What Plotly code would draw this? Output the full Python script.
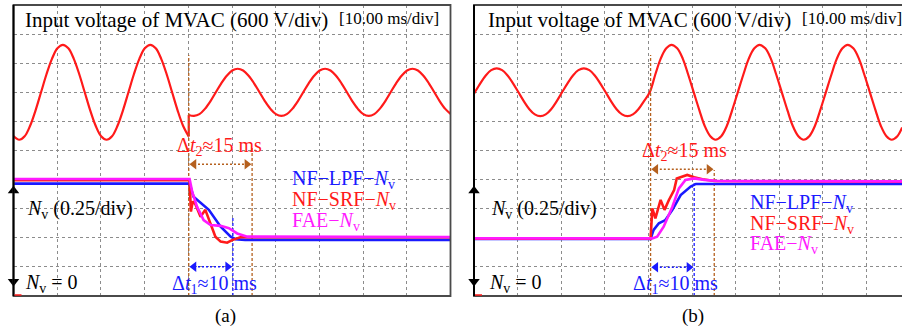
import plotly.graph_objects as go

W, H = 902, 331

# ---------------- data (time in ms, amplitude in scope divisions) ----------------
# Panel (a): input voltage before / after sag
va_t1 = [0, 1.3, 2.55, 3.8, 5.05, 6.3, 7.55, 8.8, 10.05, 11.3, 12.55, 13.8, 15.05, 16.3, 17.55, 18.8, 20.05,
         21.3, 22.55, 23.8, 25.05, 26.3, 27.55, 28.8, 30.05, 31.3, 32.55, 33.8, 35.05, 36.3, 37.55, 38.8, 40.1]
va_v1 = [5.50, 5.37, 5.49, 5.85, 6.38, 7.0, 7.62, 8.15, 8.51, 8.63, 8.51, 8.15, 7.62, 7.0, 6.38, 5.85, 5.49,
         5.37, 5.49, 5.85, 6.38, 7.0, 7.62, 8.15, 8.51, 8.63, 8.51, 8.15, 7.62, 7.0, 6.38, 5.85, 5.48]
va_t2 = [40.1, 41.3, 42.55, 43.8, 45.05, 46.3, 47.55, 48.8, 50.05, 51.3, 52.55, 53.8, 55.05, 56.3, 57.55, 58.8,
         60.05, 61.3, 62.55, 63.8, 65.05, 66.3, 67.55, 68.8, 70.05, 71.3, 72.55, 73.8, 75.05, 76.3, 77.55,
         78.8, 80.05, 81.3, 82.55, 83.8, 85.05, 86.3, 87.55, 88.8, 90.05, 91.3, 92.55, 93.8, 95.05, 96.3,
         97.55, 98.8, 100]
va_v2 = [6.22, 6.19, 6.25, 6.43, 6.69, 7.0, 7.31, 7.57, 7.75, 7.81, 7.75, 7.57, 7.31, 7.0, 6.69, 6.43,
         6.25, 6.19, 6.25, 6.43, 6.69, 7.0, 7.31, 7.57, 7.75, 7.81, 7.75, 7.57, 7.31, 7.0, 6.69,
         6.43, 6.25, 6.19, 6.25, 6.43, 6.69, 7.0, 7.31, 7.57, 7.75, 7.81, 7.75, 7.57, 7.31, 7.0,
         6.69, 6.43, 6.26]
va_jump_t = [40.1, 40.1]
va_jump_v = [5.48, 6.22]

# Panel (a): Nv responses
a_lpf_t = [0, 40.3, 41.2, 44.7, 47.4, 49.7, 50.8, 53.0, 100]
a_lpf_v = [3.86, 3.86, 3.41, 2.96, 2.38, 2.04, 1.95, 1.93, 1.93]
a_srf_t = [0, 40.3, 40.6, 41.0, 41.6, 42.8, 43.9, 45.0, 46.2, 47.4, 48.9, 50.0, 51.9, 100]
a_srf_v = [3.98, 3.98, 2.90, 3.25, 3.16, 2.72, 2.96, 2.50, 2.04, 1.87, 1.83, 1.92, 2.02, 2.02]
a_fae_t = [0, 40.3, 40.9, 42.0, 43.5, 45.1, 47.4, 49.3, 51.2, 53.5, 100]
a_fae_v = [4.02, 4.02, 3.58, 3.07, 2.61, 2.44, 2.41, 2.33, 2.15, 2.04, 2.03]

# Panel (b): input voltage swell
vb_t = [0, 0.2, 1.45, 2.7, 3.95, 5.2, 6.45, 7.7, 8.95, 10.2, 11.45, 12.7, 13.95, 15.2, 16.45, 17.7, 18.95,
        20.2, 21.45, 22.7, 23.95, 25.2, 26.45, 27.7, 28.95, 30.2, 31.45, 32.7, 33.95, 35.2, 36.45, 37.7,
        38.95, 40.3, 41.6, 42.8, 44.1, 45.3, 46.6, 47.9, 49.1, 50.4, 51.7, 52.9, 54.2, 55.4, 56.7, 58.0,
        59.2, 60.5, 61.8, 63.0, 64.3, 65.5, 66.8, 68.1, 69.3, 70.6, 71.9, 73.1, 74.4, 75.6, 76.9, 78.2,
        79.4, 80.7, 82.0, 83.2, 84.5, 85.7, 87.0, 88.3, 89.5, 90.8, 92.1, 93.3, 94.6, 95.8, 97.1, 98.2]
vb_v = [6.95, 7.0, 7.31, 7.58, 7.76, 7.82, 7.76, 7.58, 7.31, 7.0, 6.69, 6.42, 6.24, 6.18, 6.24, 6.42, 6.69,
        7.0, 7.31, 7.58, 7.76, 7.82, 7.76, 7.58, 7.31, 7.0, 6.69, 6.42, 6.24, 6.18, 6.24, 6.42,
        6.69, 7.0, 7.62, 8.15, 8.51, 8.63, 8.51, 8.15, 7.62, 7.0, 6.38, 5.85, 5.49, 5.37, 5.49, 5.85,
        6.38, 7.0, 7.62, 8.15, 8.51, 8.63, 8.51, 8.15, 7.62, 7.0, 6.38, 5.85, 5.49, 5.37, 5.49, 5.85,
        6.38, 7.0, 7.62, 8.15, 8.51, 8.63, 8.51, 8.15, 7.62, 7.0, 6.38, 5.85, 5.49, 5.37, 5.49, 5.79]

# Panel (b): Nv responses
b_lpf_t = [0, 40.5, 41.2, 42.4, 43.9, 45.5, 47.4, 49.7, 50.9, 98.2]
b_lpf_v = [1.96, 1.96, 2.27, 2.50, 2.61, 2.96, 3.47, 3.76, 3.85, 3.85]
b_srf_t = [0, 40.5, 40.9, 41.6, 42.8, 43.7, 44.7, 45.9, 46.5, 47.8, 48.9, 50.5, 52.4, 55.1, 98.2]
b_srf_v = [1.97, 1.97, 3.01, 2.67, 3.30, 2.96, 3.30, 3.64, 4.04, 4.12, 4.16, 4.08, 4.01, 3.95, 3.93]
b_fae_t = [0, 40.9, 42.0, 43.5, 45.5, 47.0, 48.5, 50.5, 52.8, 55.9, 98.2]
b_fae_v = [1.98, 1.98, 2.04, 2.38, 3.07, 3.70, 3.99, 4.04, 3.99, 3.95, 3.94]

# Timing markers [start, Δt1 end, Δt2 end]
a_marks = [40.1, 50.2, 54.6]
b_marks = [40.5, 50.5, 55.1]

legend_names = ["NF−LPF−<i>N</i><sub>v</sub>", "NF−SRF−<i>N</i><sub>v</sub>", "FAE−<i>N</i><sub>v</sub>"]
title_txt = "Input voltage of MVAC (600 V/div)"
scale_txt = "[10.00 ms/div]"
dt1_txt = "Δ<i>t</i><sub>1</sub>≈10 ms"
dt2_txt = "Δ<i>t</i><sub>2</sub>≈15 ms"

# ---------------- styles ----------------
RED = "#ff1a1a"
BLUE = "#1a1aff"
MAG = "#ff1aff"
BROWN = "#b5601e"
FONT = "Liberation Serif"

top_px, bot_px = 5, 296
a_left, a_right = 13.5, 450.5
b_left = 474.0
px_per_div = 43.6
b_range = (W - b_left) / px_per_div * 10

def px_x(x):
    return x / W

def px_y(y):
    return 1 - y / H

fig = go.Figure()

def add_panel(xa, ya, volt_segments, lpf, srf, fae, marks, arrows_y, vline_tops):
    for (t, v, shape) in volt_segments:
        fig.add_trace(go.Scatter(x=t, y=v, xaxis=xa, yaxis=ya, mode="lines",
                                 line=dict(color=RED, width=2.2, shape=shape, smoothing=1.0),
                                 showlegend=False, hoverinfo="skip"))
    t0, t1, t2 = marks
    for tt, top, col in [(t0, vline_tops[0], BROWN), (t2, vline_tops[2], BROWN), (t1, vline_tops[1], BLUE)]:
        fig.add_trace(go.Scatter(x=[tt, tt], y=[0, top], xaxis=xa, yaxis=ya, mode="lines",
                                 line=dict(color=col, width=1.3, dash="3px,2px"),
                                 showlegend=False, hoverinfo="skip"))
    for (t, v), col in [(lpf, BLUE), (srf, RED), (fae, MAG)]:
        fig.add_trace(go.Scatter(x=t, y=v, xaxis=xa, yaxis=ya, mode="lines",
                                 line=dict(color=col, width=2.6),
                                 showlegend=False, hoverinfo="skip"))
    for (ta, tb, yy, col) in [(t0, t2, arrows_y[1], BROWN), (t0, t1, arrows_y[0], BLUE)]:
        fig.add_trace(go.Scatter(x=[ta + 1.2, tb - 1.2], y=[yy, yy], xaxis=xa, yaxis=ya,
                                 mode="lines+markers",
                                 line=dict(color=col, width=1.5, dash="2px,2px"),
                                 marker=dict(symbol=["triangle-left", "triangle-right"], size=9, color=col),
                                 showlegend=False, hoverinfo="skip"))
    fig.add_trace(go.Scatter(x=[0, 0], y=[3.62, 0.5], xaxis=xa, yaxis=ya, mode="markers",
                             marker=dict(symbol=["triangle-up", "triangle-down"], size=10, color="black"),
                             cliponaxis=False, showlegend=False, hoverinfo="skip"))


add_panel("x", "y",
          [(va_t1, va_v1, "spline"), (va_jump_t, va_jump_v, "linear"), (va_t2, va_v2, "spline")],
          (a_lpf_t, a_lpf_v), (a_srf_t, a_srf_v), (a_fae_t, a_fae_v),
          a_marks, ((296 - 266.7) / 29.1, (296 - 164.3) / 29.1),
          ((296 - 55) / 29.1, (296 - 218) / 29.1, (296 - 148) / 29.1))
add_panel("x2", "y2",
          [(vb_t, vb_v, "spline")],
          (b_lpf_t, b_lpf_v), (b_srf_t, b_srf_v), (b_fae_t, b_fae_v),
          b_marks, ((296 - 267.3) / 29.1, (296 - 169.3) / 29.1),
          ((296 - 55) / 29.1, (296 - 183.3) / 29.1, (296 - 170) / 29.1))

ydom = [px_y(bot_px), px_y(top_px)]
grid = dict(showgrid=True, gridcolor="#8c8c8c", gridwidth=1, griddash="dot",
            zeroline=False, showticklabels=False, ticks="", showline=False)
fig.update_layout(
    width=W, height=H, margin=dict(l=0, r=0, t=0, b=0),
    paper_bgcolor="white", plot_bgcolor="white",
    xaxis=dict(domain=[px_x(a_left), px_x(a_right)], range=[0, 100], tick0=0, dtick=10, **grid),
    yaxis=dict(domain=ydom, range=[0, 10], tick0=0, dtick=1, anchor="x", **grid),
    xaxis2=dict(domain=[px_x(b_left), 1], range=[0, b_range], tick0=0, dtick=10, anchor="y2", **grid),
    yaxis2=dict(domain=ydom, range=[0, 10], tick0=0, dtick=1, anchor="x2", **grid),
    showlegend=False,
)

shapes = []
shapes.append(dict(type="rect", xref="paper", yref="paper", x0=px_x(a_left), x1=px_x(a_right),
                   y0=px_y(bot_px), y1=px_y(top_px), line=dict(color="#4a4a4a", width=1.8)))
shapes.append(dict(type="rect", xref="paper", yref="paper", x0=px_x(b_left), x1=px_x(W + 5),
                   y0=px_y(bot_px), y1=px_y(top_px), line=dict(color="#4a4a4a", width=1.8)))
for xl in (a_left, b_left):
    shapes.append(dict(type="line", xref="paper", yref="paper", x0=px_x(xl), x1=px_x(xl),
                       y0=px_y(bot_px), y1=px_y(top_px), line=dict(color="black", width=2)))
    shapes.append(dict(type="line", xref="paper", yref="paper", x0=px_x(xl + 1), x1=px_x(xl + 8),
                       y0=px_y(bot_px - 1), y1=px_y(bot_px - 1), line=dict(color=RED, width=1.5)))
fig.update_layout(shapes=shapes)

ann = []

def txt(x, y, s, size=20, color="black", xanchor="left"):
    ann.append(dict(x=px_x(x), y=px_y(y), xref="paper", yref="paper", text=s, showarrow=False,
                    xanchor=xanchor, yanchor="middle", font=dict(family=FONT, size=size, color=color)))

# panel (a)
txt(23, 20, title_txt, 21)
txt(337, 19, scale_txt, 17)
txt(219, 146, dt2_txt, 20, RED, "center")
txt(214, 284, dt1_txt, 20, BLUE, "center")
txt(290, 179, legend_names[0], 20, BLUE)
txt(290, 200, legend_names[1], 20, RED)
txt(290, 221, legend_names[2], 20, MAG)
txt(25, 209, "<i>N</i><sub>v</sub> (0.25/div)", 20)
txt(23, 283, "<i>N</i><sub>v</sub> = 0", 20)
txt(225, 316, "(a)", 19, "black", "center")

# panel (b)
txt(486, 20, title_txt, 21)
txt(800, 19, scale_txt, 17)
txt(684, 151, dt2_txt, 20, RED, "center")
txt(675, 284, dt1_txt, 20, BLUE, "center")
txt(748, 203, legend_names[0], 20, BLUE)
txt(748, 224, legend_names[1], 20, RED)
txt(748, 244, legend_names[2], 20, MAG)
txt(489, 209, "<i>N</i><sub>v</sub> (0.25/div)", 20)
txt(487, 283, "<i>N</i><sub>v</sub> = 0", 20)
txt(693, 316, "(b)", 19, "black", "center")

fig.update_layout(annotations=ann)
fig.write_html("out.html")
